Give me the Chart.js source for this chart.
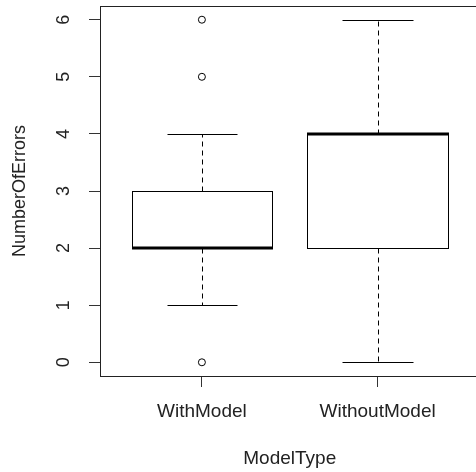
<!DOCTYPE html>
<html>
<head>
<meta charset="utf-8">
<script src="https://cdn.jsdelivr.net/npm/chart.js@4"></script>
<style>
html, body { margin: 0; padding: 0; background: #fff; overflow: hidden; }
#wrap { width: 476px; height: 472px; overflow: hidden; }
</style>
</head>
<body>
<div id="wrap"><canvas id="miGrafico" width="484" height="472"></canvas></div>
<script>
// datos del boxplot
const categories = ['WithModel', 'WithoutModel'];
const lowerWhisker = [1, 0];
const q1 = [2, 2];
const median = [2, 4];
const q3 = [3, 4];
const upperWhisker = [4, 6];
const outliers = [[0, 5, 6], []];
const yTicks = [0, 1, 2, 3, 4, 5, 6];

const FONT = 'Liberation Sans, Arial, sans-serif';

let puntos = [];
outliers.forEach(function (lista, i) {
  lista.forEach(function (v) {
    puntos.push({ x: i + 1, y: v });
  });
});

// dibuja cajas, bigotes y medianas con las escalas
const boxPlugin = {
  id: 'cajas',
  beforeDatasetsDraw(chart) {
    const ctx = chart.ctx;
    const xs = chart.scales.x;
    const ys = chart.scales.y;
    const area = chart.chartArea;

    ctx.save();
    ctx.strokeStyle = '#000';
    ctx.lineWidth = 1;

    for (let i = 0; i < categories.length; i++) {
      const c = i + 1;
      const xl = Math.round(xs.getPixelForValue(c - 0.4)) + 0.5;
      const xr = Math.round(xs.getPixelForValue(c + 0.4)) + 0.5;
      const xc = Math.round(xs.getPixelForValue(c)) + 0.5;
      const cl = Math.round(xs.getPixelForValue(c - 0.2)) + 0.5;
      const cr = Math.round(xs.getPixelForValue(c + 0.2)) + 0.5;
      const yq1 = Math.round(ys.getPixelForValue(q1[i])) + 0.5;
      const yq3 = Math.round(ys.getPixelForValue(q3[i])) + 0.5;
      const ylo = Math.round(ys.getPixelForValue(lowerWhisker[i])) + 0.5;
      const yhi = Math.round(ys.getPixelForValue(upperWhisker[i])) + 0.5;
      const ymed = Math.round(ys.getPixelForValue(median[i]));

      // bigotes punteados
      ctx.setLineDash([5, 4]);
      ctx.beginPath();
      ctx.moveTo(xc, yq1);
      ctx.lineTo(xc, ylo);
      ctx.moveTo(xc, yq3);
      ctx.lineTo(xc, yhi);
      ctx.stroke();
      ctx.setLineDash([]);

      // topes
      ctx.beginPath();
      ctx.moveTo(cl, ylo);
      ctx.lineTo(cr, ylo);
      ctx.moveTo(cl, yhi);
      ctx.lineTo(cr, yhi);
      ctx.stroke();

      // caja
      ctx.strokeRect(xl, yq3, xr - xl, yq1 - yq3);

      // mediana
      ctx.lineWidth = 3;
      ctx.beginPath();
      ctx.moveTo(xl - 0.5, ymed);
      ctx.lineTo(xr + 0.5, ymed);
      ctx.stroke();
      ctx.lineWidth = 1;
    }

    // marco
    ctx.strokeStyle = '#222';
    ctx.strokeRect(Math.round(area.left) + 0.5, Math.round(area.top) + 0.5,
      Math.round(area.right - area.left), Math.round(area.bottom - area.top));

    // etiquetas del eje y (giradas)
    ctx.fillStyle = '#222';
    ctx.font = '18px ' + FONT;
    ctx.textAlign = 'center';
    ctx.textBaseline = 'middle';
    yTicks.forEach(function (v) {
      const y = ys.getPixelForValue(v);
      ctx.save();
      ctx.translate(64, y);
      ctx.rotate(-Math.PI / 2);
      ctx.fillText(String(v), 0, 0);
      ctx.restore();
    });
    ctx.restore();
  }
};

let ctx = document.getElementById('miGrafico').getContext('2d');

let grafico = new Chart(ctx, {
  type: 'scatter',
  data: {
    datasets: [{
      label: 'outliers',
      data: puntos,
      pointStyle: 'circle',
      pointRadius: 3.5,
      pointHoverRadius: 3.5,
      borderColor: '#000',
      backgroundColor: '#fff',
      borderWidth: 1
    }]
  },
  options: {
    responsive: false,
    animation: false,
    events: [],
    layout: {
      padding: { top: 6, right: 4, left: 0, bottom: 0 }
    },
    plugins: {
      legend: { display: false },
      tooltip: { enabled: false }
    },
    scales: {
      x: {
        type: 'linear',
        min: 0.42,
        max: 2.58,
        afterBuildTicks(scale) {
          scale.ticks = categories.map(function (c, i) { return { value: i + 1 }; });
        },
        afterFit(scale) {
          scale.height = 96;
        },
        ticks: {
          color: '#222',
          font: { family: FONT, size: 19 },
          padding: 13,
          maxRotation: 0,
          callback: function (v) { return categories[v - 1]; }
        },
        grid: {
          drawOnChartArea: false,
          drawTicks: true,
          tickLength: 11,
          color: '#333'
        },
        border: { display: false },
        title: {
          display: true,
          text: 'ModelType',
          color: '#222',
          font: { family: FONT, size: 19 },
          padding: { top: 0, bottom: 2 }
        }
      },
      y: {
        min: -0.24,
        max: 6.24,
        afterBuildTicks(scale) {
          scale.ticks = yTicks.map(function (v) { return { value: v }; });
        },
        afterFit(scale) {
          scale.width = 100;
        },
        ticks: { display: false },
        grid: {
          drawOnChartArea: false,
          drawTicks: true,
          tickLength: 11,
          color: '#333'
        },
        border: { display: false },
        title: {
          display: true,
          text: 'NumberOfErrors',
          color: '#222',
          font: { family: FONT, size: 18 },
          padding: { top: 9, bottom: 0 }
        }
      }
    }
  },
  plugins: [boxPlugin]
});
</script>
</body>
</html>
